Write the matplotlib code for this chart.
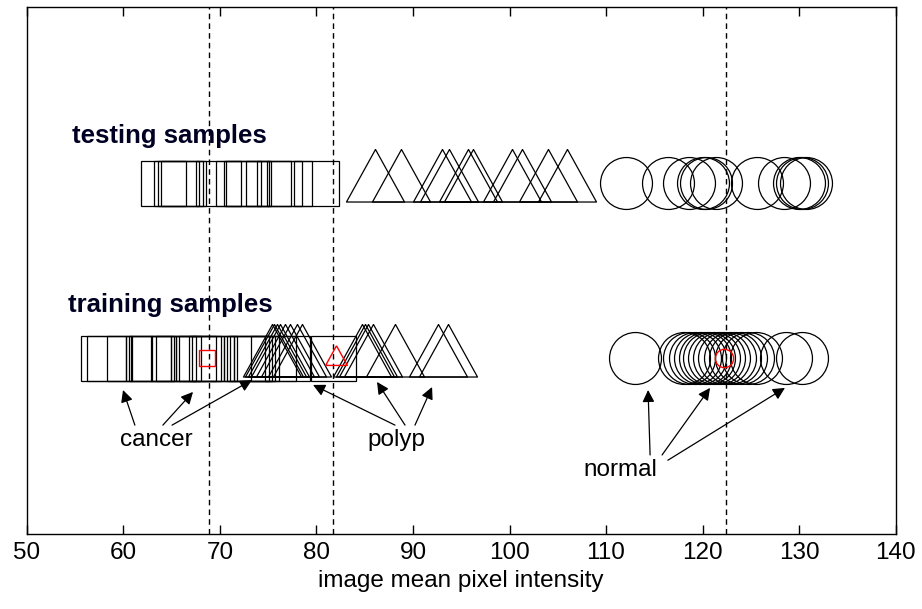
import matplotlib
matplotlib.use("Agg")
import matplotlib.pyplot as plt

plt.rcParams['font.family'] = ['Liberation Sans', 'DejaVu Sans']

# marker positions (image mean pixel intensity)
test_cancer = [64.14, 65.44, 65.86, 66.21, 69.76, 71.83, 72.69, 72.94, 75.01, 76.08, 77.19, 79.94]
test_polyp = [86.07, 88.76, 93.04, 93.77, 95.73, 96.19, 100.23, 101.26, 104.02, 105.99]
test_normal = [112.1, 116.4, 118.6, 120.0, 120.35, 121.4, 125.6, 128.4, 130.0, 130.3, 130.7]

train_cancer = [57.87, 58.56, 60.64, 62.53, 62.87, 63.05, 65.12, 65.64, 67.19, 67.71, 68.05,
                69.09, 69.44, 72.71, 72.99, 73.33, 73.75, 75.5, 77.0, 81.67]
train_polyp = [75.37, 75.6, 75.89, 76.2, 76.75, 77.27, 77.96, 78.48, 84.69, 85.04, 85.38,
               85.9, 88.14, 92.63, 93.66]
train_normal = [113.0, 118.1, 118.6, 119.2, 119.7, 120.2, 120.7, 121.2, 121.7, 122.2, 122.8,
                123.4, 124.0, 124.7, 125.5, 128.6, 130.3]

# class means (red) and decision thresholds (dashed)
class_means = [68.72, 82.02, 122.24]
thresholds = [68.91, 81.75, 122.42]

xticks = [50, 60, 70, 80, 90, 100, 110, 120, 130, 140]

train_y = 1
test_y = 2

# MATLAB-like triangle, apex further from centre than base
tri = [(0, 34), (-29, -18.5), (29, -18.5), (0, 34)]

fig = plt.figure(figsize=(9.22, 6.09), dpi=100)
ax = fig.add_axes([0.029, 0.1232, 0.9425, 0.8648])

for t in thresholds:
    ax.axvline(t, color='k', lw=1.0, ls=(0, (4, 3)), zorder=1)

mk = dict(ls='none', mfc='none', mec='k', mew=0.9)
ax.plot(test_cancer, [test_y] * len(test_cancer), marker='s', ms=32.4, **mk)
ax.plot(test_polyp, [test_y] * len(test_polyp), marker=tri, ms=49, **mk)
ax.plot(test_normal, [test_y] * len(test_normal), marker='o', ms=37.4, **mk)

ax.plot(train_cancer, [train_y] * len(train_cancer), marker='s', ms=32.4, **mk)
ax.plot(train_polyp, [train_y] * len(train_polyp), marker=tri, ms=49, **mk)
ax.plot(train_normal, [train_y] * len(train_normal), marker='o', ms=37.4, **mk)

rk = dict(ls='none', mfc='none', mec='red', mew=1.0)
ax.plot(class_means[0], train_y, marker='s', ms=11.8, **rk)
ax.plot(class_means[1], train_y, marker=tri, ms=18.3, **rk)
ax.plot(class_means[2], train_y, marker='o', ms=13.2, **rk)

ax.text(54.66, 2.225, 'testing samples', fontsize=18.5, fontweight='bold', color='#000022')
ax.text(54.31, 1.266, 'training samples', fontsize=18.5, fontweight='bold', color='#000022')

ax.text(59.66, 0.501, 'cancer', fontsize=17.5)
ax.text(85.24, 0.501, 'polyp', fontsize=17.5)
ax.text(107.61, 0.330, 'normal', fontsize=17.5)

ap = dict(arrowstyle='-|>', color='k', lw=0.9, mutation_scale=18, shrinkA=0, shrinkB=0)
arrows = [
    ((61.2, 0.62), (59.97, 0.82)),
    ((64.1, 0.62), (67.22, 0.809)),
    ((65.05, 0.62), (73.33, 0.877)),
    ((88.14, 0.62), (79.65, 0.849)),
    ((89.18, 0.62), (86.28, 0.866)),
    ((90.21, 0.62), (91.98, 0.837)),
    ((114.56, 0.45), (114.35, 0.82)),
    ((115.8, 0.45), (120.77, 0.832)),
    ((116.4, 0.42), (128.53, 0.832)),
]
for tail, head in arrows:
    ax.annotate('', xy=head, xytext=tail, arrowprops=ap)

ax.set_xlim(50, 140)
ax.set_ylim(0, 3)
ax.set_xticks(xticks)
ax.set_yticks([])
ax.tick_params(axis='x', direction='in', top=True, length=6.5, width=1, labelsize=17.5, pad=6)
for s in ax.spines.values():
    s.set_linewidth(1.0)
ax.set_xlabel('image mean pixel intensity', fontsize=17.5, labelpad=4)

fig.savefig('out.png', dpi=100)
